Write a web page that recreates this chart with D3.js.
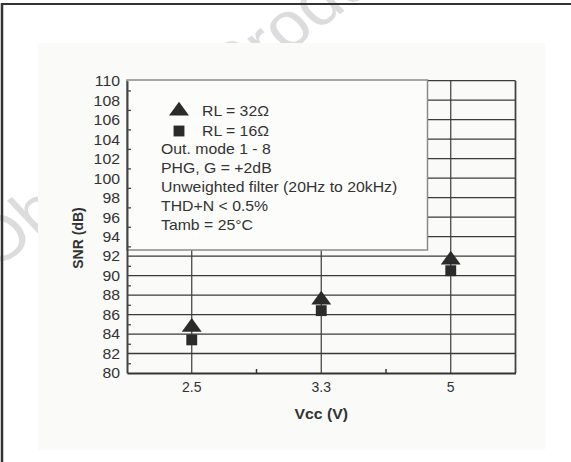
<!DOCTYPE html>
<html>
<head>
<meta charset="utf-8">
<script src="https://cdn.jsdelivr.net/npm/d3@7"></script>
<style>
  body { margin: 0; background: #fff; }
  svg { display: block; font-family: "Liberation Sans", Arial, sans-serif; }
</style>
</head>
<body>
<script>
// chart values
const categories = ["2.5", "3.3", "5"];
const snrRL32 = [84.7, 87.5, 91.6];
const snrRL16 = [83.4, 86.4, 90.5];
const yTickLabels = [80, 82, 84, 86, 88, 90, 92, 94, 96, 98, 100, 102, 104, 106, 108, 110];
const yMinorTicks = [81, 83, 85, 87, 89, 91, 93, 95, 97, 99, 101, 103, 105, 107, 109];
const legendSeries = ["RL = 32\u03A9", "RL = 16\u03A9"];
const legendNotes = ["Out. mode 1 - 8", "PHG, G = +2dB", "Unweighted filter (20Hz to 20kHz)", "THD+N < 0.5%", "Tamb = 25\u00B0C"];

const W = 571, H = 462;
const plot = { left: 127, right: 515.5, top: 80.7, bottom: 373 };
const SX = 1.13; // the original picture is stretched sideways
const ink = "#2b2b2b";

const svg = d3.select("body").append("svg")
    .attr("width", W)
    .attr("height", H);

// watermark, mostly hidden by the panel
svg.append("text")
    .attr("transform", "translate(-6,271) scale(" + SX + ",1) rotate(-40)")
    .attr("font-size", 64)
    .attr("fill", "#dcdcdc")
    .text("Obsolete Product(s)");

// outer frame (only top and left edges show)
svg.append("line").attr("x1", 2).attr("x2", W).attr("y1", 4).attr("y2", 4)
    .attr("stroke", "#333").attr("stroke-width", 2);
svg.append("line").attr("x1", 2).attr("x2", 2).attr("y1", 3).attr("y2", H)
    .attr("stroke", "#333").attr("stroke-width", 2.5);

// light panel
svg.append("rect")
    .attr("x", 38).attr("y", 43).attr("width", 507).attr("height", 407)
    .attr("fill", "#fafaf8");

const x = d3.scaleBand().domain(categories).range([plot.left, plot.right]);
const y = d3.scaleLinear().domain([80, 110]).range([plot.bottom, plot.top]);
const cx = d => x(d) + x.bandwidth() / 2;

function hText(sel, px, py, anchor) {
    return sel.append("text")
        .attr("transform", "translate(" + px + "," + py + ") scale(" + SX + ",1)")
        .attr("text-anchor", anchor || "start");
}

// horizontal grid
svg.append("g").selectAll("line")
    .data(yTickLabels.slice(1))
    .join("line")
    .attr("x1", plot.left).attr("x2", plot.right)
    .attr("y1", d => y(d)).attr("y2", d => y(d))
    .attr("stroke", "#3a3a3a").attr("stroke-width", 1.3);

// vertical grid at each supply voltage
svg.append("g").selectAll("line")
    .data(categories)
    .join("line")
    .attr("x1", cx).attr("x2", cx)
    .attr("y1", plot.top).attr("y2", plot.bottom)
    .attr("stroke", "#3a3a3a").attr("stroke-width", 1.2);

// right border
svg.append("line")
    .attr("x1", plot.right).attr("x2", plot.right)
    .attr("y1", plot.top).attr("y2", plot.bottom)
    .attr("stroke", "#444").attr("stroke-width", 1.8);

// legend box
const lg = svg.append("g");
lg.append("rect")
    .attr("x", plot.left).attr("y", plot.top - 0.7)
    .attr("width", 300.5).attr("height", 170)
    .attr("fill", "#fcfcfb")
    .attr("stroke", "#8a8a8a").attr("stroke-width", 1.5);

// y axis
const yAxis = svg.append("g")
    .attr("transform", "translate(" + plot.left + ",0)")
    .call(d3.axisLeft(y).tickValues(yTickLabels).tickSize(0).tickPadding(7));
yAxis.select(".domain").attr("stroke", "#444").attr("stroke-width", 2);
yAxis.selectAll("text")
    .attr("font-size", 14)
    .attr("fill", "#333")
    .attr("font-family", "Liberation Sans, Arial, sans-serif")
    .each(function () {
        const t = d3.select(this);
        const tx = +t.attr("x");
        t.attr("x", null).attr("dy", "0.35em")
            .attr("transform", "translate(" + tx + ",0) scale(" + SX + ",1)");
    });

// minor ticks inside the frame
svg.append("g")
    .attr("transform", "translate(" + plot.left + ",0)")
    .call(d3.axisRight(y).tickValues(yMinorTicks).tickSize(4).tickFormat(""))
    .call(g => g.select(".domain").remove())
    .selectAll("line").attr("stroke", "#444").attr("stroke-width", 1.3);

// x axis
const xAxis = svg.append("g")
    .attr("transform", "translate(0," + plot.bottom + ")")
    .call(d3.axisBottom(x).tickSize(0).tickPadding(9));
xAxis.select(".domain").attr("stroke", "#333").attr("stroke-width", 2.2);
xAxis.selectAll("text")
    .attr("font-size", 14)
    .attr("fill", "#333")
    .attr("font-family", "Liberation Sans, Arial, sans-serif")
    .each(function () {
        const t = d3.select(this);
        t.attr("transform", t.attr("transform") + " scale(" + SX + ",1)");
    });

// small ticks between bands
svg.append("g").selectAll("line")
    .data(categories.slice(0, -1))
    .join("line")
    .attr("x1", d => x(d) + x.bandwidth()).attr("x2", d => x(d) + x.bandwidth())
    .attr("y1", plot.bottom).attr("y2", plot.bottom - 4)
    .attr("stroke", "#333").attr("stroke-width", 1.5);

// axis titles
hText(svg, cx("3.3"), 419, "middle")
    .attr("font-size", 14).attr("font-weight", "bold").attr("fill", "#333")
    .text("Vcc (V)");
svg.append("text")
    .attr("transform", "translate(83,238) rotate(-90) ")
    .attr("text-anchor", "middle")
    .attr("font-size", 14).attr("font-weight", "bold").attr("fill", "#333")
    .text("SNR (dB)");

// markers
const tri = d3.symbol().type(d3.symbolTriangle).size(110);
const sq = d3.symbol().type(d3.symbolSquare).size(118);

svg.append("g").selectAll("path")
    .data(categories)
    .join("path")
    .attr("d", sq)
    .attr("transform", (d, i) => "translate(" + cx(d) + "," + y(snrRL16[i]) + ")")
    .attr("fill", ink);

svg.append("g").selectAll("path")
    .data(categories)
    .join("path")
    .attr("d", tri)
    .attr("transform", (d, i) => "translate(" + cx(d) + "," + y(snrRL32[i]) + ") scale(1.25,1)")
    .attr("fill", ink);

// legend content
lg.append("path").attr("d", tri)
    .attr("transform", "translate(179,111) scale(1.25,1)").attr("fill", ink);
lg.append("path").attr("d", sq)
    .attr("transform", "translate(179,131)").attr("fill", ink);

lg.selectAll("text.series")
    .data(legendSeries)
    .join(enter => enter.append("text"))
    .attr("class", "series")
    .attr("transform", (d, i) => "translate(202," + (116 + i * 20) + ") scale(" + SX + ",1)")
    .attr("font-size", 14).attr("fill", "#333")
    .text(d => d);

lg.selectAll("text.note")
    .data(legendNotes)
    .join(enter => enter.append("text"))
    .attr("class", "note")
    .attr("transform", (d, i) => "translate(161," + (154 + i * 19) + ") scale(" + SX + ",1)")
    .attr("font-size", 14).attr("fill", "#333")
    .text(d => d);
</script>
</body>
</html>
